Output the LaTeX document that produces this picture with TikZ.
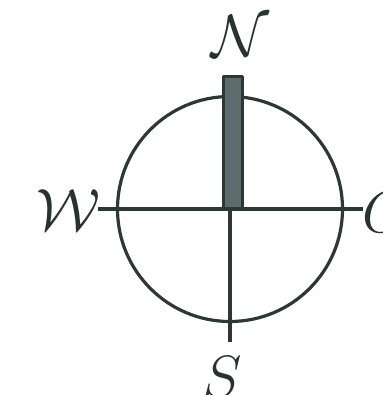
\documentclass[tikz,border=0pt]{standalone}
\usetikzlibrary{positioning}
\definecolor{ink}{HTML}{2C3833}
\definecolor{needlefill}{HTML}{5E6B6C}
\tikzset{
  every picture/.style={line cap=round, line join=round},
  axis/.style={draw=ink, line width=3.2pt, line cap=butt},
  ring/.style={circle, draw=ink, line width=3.2pt, minimum size=225pt, inner sep=0pt},
  needle/.style={rectangle, draw=ink, fill=needlefill, line width=3pt,
                 minimum width=19pt, minimum height=132pt, inner sep=0pt},
  pole/.style={text=ink!90!black, inner sep=0pt, font=\Huge, scale=2.4},
}
\begin{document}
\begin{tikzpicture}[x=1pt, y=-1pt]
  \useasboundingbox (0,0) rectangle (382,395);
  \clip (0,0) rectangle (382,395);
  % centre and line ends
  \coordinate (c) at (230,209);
  \coordinate (wend) at (98,209);
  \coordinate (eend) at (363,209);
  \coordinate (send) at (230,342);
  % compass rose
  \node[ring] (rose) at (c) {};
  \draw[axis] (wend) -- (eend);
  \draw[axis] (c) -- (send);
  \node[needle, anchor=south] (bar) at (233,210) {};
  % pole letters
  \node[pole] (n) at (240,36) {$\mathcal{N}$};
  \node[pole] (w) at (68,210) {$\mathcal{W}$};
  \node[pole] (s) at (222,377) {$S$};
  \node[pole, anchor=west] (o) at (362,212) {$O$};
\end{tikzpicture}
\end{document}
